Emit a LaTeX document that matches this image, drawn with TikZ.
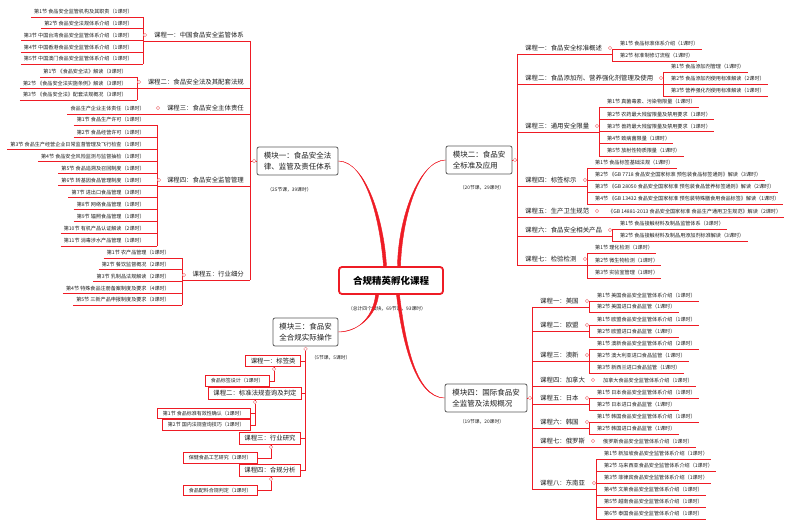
\documentclass[tikz,border=0pt]{standalone}
\usepackage{fontspec}
\setmainfont{Noto Sans CJK SC}
\usetikzlibrary{calc}

\definecolor{brred}{HTML}{EE1C25}
\definecolor{knobred}{HTML}{F08A8E}
\definecolor{inkgray}{HTML}{1E1E1E}
\definecolor{framegray}{HTML}{595959}

\tikzset{
  br/.style={draw=brred, line width=0.8pt},
  branch/.style={fill=brred, draw=brred, line width=0.4pt},
  leaf/.style={font=\fontsize{5.1}{6}\selectfont, text=inkgray, inner xsep=3pt, inner ysep=2.4pt},
  leafl/.style={leaf, anchor=south east},
  leafr/.style={leaf, anchor=south west},
  course/.style={font=\fontsize{6.4}{7.5}\selectfont, text=inkgray, inner xsep=3pt, inner ysep=2.4pt},
  coursel/.style={course, anchor=south east},
  courser/.style={course, anchor=south west},
  knob/.style={circle, draw=knobred, fill=white, line width=0.5pt, inner sep=0pt, minimum size=3.6pt},
  module/.style={draw=framegray, fill=white, rounded corners=2pt, line width=0.8pt, inner sep=0pt, minimum height=28pt, align=left, font=\fontsize{7.5}{10.5}\selectfont, text=inkgray},
  root/.style={draw=brred, fill=white, rounded corners=3pt, line width=1.8pt, minimum width=104pt, minimum height=27pt, font=\fontsize{9.5}{11}\selectfont\bfseries, text=black},
  note/.style={font=\fontsize{4.8}{6}\selectfont, text=inkgray},
  cbox/.style={draw=brred, fill=white, line width=0.9pt, anchor=east, inner xsep=5pt, inner ysep=0pt, minimum height=11.5pt, font=\fontsize{6.4}{7.5}\selectfont, text=inkgray},
  lbox/.style={draw=brred, fill=white, line width=0.7pt, anchor=east, inner xsep=6pt, inner ysep=0pt, minimum height=10.5pt, font=\fontsize{5}{6}\selectfont, text=inkgray},
}

\begin{document}
\begin{tikzpicture}[x=1pt,y=-1pt]
\useasboundingbox (0,0) rectangle (800,526);

% centre
\node[root] (root) at (391,280.5) {合规精英孵化课程};
\node[note] (total) at (387,309) {（总计四个模块，69节课，93课时）};

% modules
\node[module, minimum width=81pt] (m1) at (297.5,161) {模块一：食品安全法\\律、监管及责任体系};
\node[module, minimum width=66pt] (m2) at (479,160) {模块二：食品安\\全标准及应用};
\node[module, minimum width=65pt] (m3) at (305.5,332) {模块三：食品安\\全合规实际操作};
\node[module, minimum width=82pt] (m4) at (486,398) {模块四：国际食品安\\全监管及法规概况};
\node[note] (n1) at (289.5,190) {（25节课，39课时）};
\node[note] (n2) at (482,188) {（20节课，29课时）};
\node[note] (n3) at (331,358) {（5节课，5课时）};
\node[note] (n4) at (482,422) {（19节课，20课时）};

% branches to the centre
\fill[branch] (m1.east) .. controls (366,161) and (380,220) .. ([xshift=-7.5pt]root.north) -- ([xshift=-4.5pt]root.north) .. controls (384,220) and (366,162) .. (m1.east);
\fill[branch] (m2.west) .. controls (418,160) and (402,220) .. ([xshift=9.5pt]root.north) -- ([xshift=6.5pt]root.north) .. controls (398,220) and (418,161) .. (m2.west);
\fill[branch] (m3.east) .. controls (362,332) and (374,312) .. ([xshift=-15.5pt]root.south) -- ([xshift=-12.5pt]root.south) .. controls (377,312) and (362,331) .. (m3.east);
\fill[branch] (m4.west) .. controls (415,398) and (402,340) .. ([xshift=5.5pt]root.south) -- ([xshift=8.5pt]root.south) .. controls (405,340) and (415,397) .. (m4.west);

% module one
\coordinate (sp1) at (250,41);
\node[coursel] (c11) at (247,41) {课程一：中国食品安全监管体系};
\coordinate (b11) at (143,41);
\foreach \lbl [count=\i] in {第1节 食品安全监管机构及其职责（1课时）, 第2节 食品安全法规体系介绍（1课时）, 第3节 中国台湾食品安全监管体系介绍（1课时）, 第4节 中国香港食品安全监管体系介绍（1课时）, 第5节 中国澳门食品安全监管体系介绍（1课时）}{
  \node[leafl] (l11-\i) at (136,{17+11.75*(\i-1)}) {\lbl};
  \draw[br] (l11-\i.south west) -- (l11-\i.south -| b11);
}
\draw[br] (l11-1.south -| b11) -- (l11-5.south -| b11);
\draw[br] (b11) -- (c11.south -| sp1);
\node[knob] (k11) at (145,35) {};

\node[coursel] (c12) at (247,88) {课程二：食品安全法及其配套法规};
\coordinate (b12) at (137,88);
\foreach \lbl [count=\i] in {第1节 《食品安全法》解读（3课时）, 第2节 《食品安全法实施条例》解读（3课时）, 第3节 《食品安全法》配套法规概况（3课时）}{
  \node[leafl] (l12-\i) at (130,{77+11.5*(\i-1)}) {\lbl};
  \draw[br] (l12-\i.south west) -- (l12-\i.south -| b12);
}
\draw[br] (l12-1.south -| b12) -- (l12-3.south -| b12);
\draw[br] (b12) -- (c12.south -| sp1);
\node[knob] (k12) at (139,82) {};

\node[coursel] (c13) at (247,114) {课程三：食品安全主体责任};
\node[leafl] (l13) at (148,114) {食品生产企业主体责任（1课时）};
\draw[br] (l13.south west) -- (c13.south -| sp1);
\node[knob] (k13) at (158,108) {};

\node[coursel] (c14) at (247,186) {课程四：食品安全监管管理};
\coordinate (b14) at (157,186);
\foreach \lbl [count=\i] in {第1节 食品生产许可（1课时）, 第2节 食品经营许可（1课时）, 第3节 食品生产经营企业日常监督管理及飞行检查（1课时）, 第4节 食品安全风险监测与监督抽检（1课时）, 第5节 食品追溯及召回制度（1课时）, 第6节 转基因食品管理制度（1课时）, 第7节 进出口食品管理（3课时）, 第8节 网络食品管理（1课时）, 第9节 辐照食品管理（1课时）, 第10节 有机产品认证解读（2课时）, 第11节 消毒涉水产品管理（1课时）}{
  \node[leafl] (l14-\i) at (148,{125+12.1*(\i-1)}) {\lbl};
  \draw[br] (l14-\i.south west) -- (l14-\i.south -| b14);
}
\draw[br] (l14-1.south -| b14) -- (l14-11.south -| b14);
\draw[br] (b14) -- (c14.south -| sp1);
\node[knob] (k14) at (159,180) {};

\node[coursel] (c15) at (247,280) {课程五：行业细分};
\coordinate (b15) at (182,280);
\foreach \lbl [count=\i] in {第1节 农产品管理（1课时）, 第2节 餐饮监督概况（2课时）, 第3节 乳制品法规解读（2课时）, 第4节 特殊食品注册备案制度及要求（4课时）, 第5节 三新产品申报制度及要求（3课时）}{
  \node[leafl] (l15-\i) at (173,{258+11.75*(\i-1)}) {\lbl};
  \draw[br] (l15-\i.south west) -- (l15-\i.south -| b15);
}
\draw[br] (l15-1.south -| b15) -- (l15-5.south -| b15);
\draw[br] (b15) -- (c15.south -| sp1);
\node[knob] (k15) at (184,275) {};

\draw[br] (c11.south -| sp1) -- (c15.south -| sp1);
\draw[br] (m1.west) -- (m1.west -| sp1);
\node[knob] (k1) at ($(m1.west)+(-2.5,0)$) {};

% module two
\coordinate (sp2) at (517,54);
\node[courser] (c21) at (522,54) {课程一：食品安全标准概述};
\coordinate (b21) at (612,54);
\foreach \lbl [count=\i] in {第1节 食品标准体系介绍（1课时）, 第2节 标准制修订流程（1课时）}{
  \node[leafr] (l21-\i) at (617,{49+12*(\i-1)}) {\lbl};
  \draw[br] (l21-\i.south -| b21) -- (l21-\i.south east);
}
\draw[br] (l21-1.south -| b21) -- (l21-2.south -| b21);
\draw[br] (c21.south -| sp2) -- (b21);
\node[knob] (k21) at (610,48) {};

\node[courser] (c22) at (522,84) {课程二：食品添加剂、营养强化剂管理及使用};
\coordinate (b22) at (663,84);
\foreach \lbl [count=\i] in {第1节 食品添加剂管理（1课时）, 第2节 食品添加剂使用标准解读（2课时）, 第3节 营养强化剂使用标准解读（1课时）}{
  \node[leafr] (l22-\i) at (668,{72+12*(\i-1)}) {\lbl};
  \draw[br] (l22-\i.south -| b22) -- (l22-\i.south east);
}
\draw[br] (l22-1.south -| b22) -- (l22-3.south -| b22);
\draw[br] (c22.south -| sp2) -- (b22);
\node[knob] (k22) at (661,78) {};

\node[courser] (c23) at (522,132) {课程三：通用安全限量};
\coordinate (b23) at (599,132);
\foreach \lbl [count=\i] in {第1节 真菌毒素、污染物限量（1课时）, 第2节 农药最大残留限量及禁用要求（1课时）, 第3节 兽药最大残留限量及禁用要求（1课时）, 第4节 致病菌限量（1课时）, 第5节 放射性物质限量（1课时）}{
  \node[leafr] (l23-\i) at (604,{107+12.25*(\i-1)}) {\lbl};
  \draw[br] (l23-\i.south -| b23) -- (l23-\i.south east);
}
\draw[br] (l23-1.south -| b23) -- (l23-5.south -| b23);
\draw[br] (c23.south -| sp2) -- (b23);
\node[knob] (k23) at (597,126) {};

\node[courser] (c24) at (522,186) {课程四：标签标示};
\coordinate (b24) at (587,186);
\foreach \lbl [count=\i] in {第1节 食品标签基础法规（1课时）, 第2节 《GB 7718 食品安全国家标准 预包装食品标签通则》解读（3课时）, 第3节 《GB 28050 食品安全国家标准 预包装食品营养标签通则》解读（2课时）, 第4节 《GB 13432 食品安全国家标准 预包装特殊膳食用食品标签》解读（1课时）}{
  \node[leafr] (l24-\i) at (592,{168+12*(\i-1)}) {\lbl};
  \draw[br] (l24-\i.south -| b24) -- (l24-\i.south east);
}
\draw[br] (l24-1.south -| b24) -- (l24-4.south -| b24);
\draw[br] (c24.south -| sp2) -- (b24);
\node[knob] (k24) at (585,180) {};

\node[courser] (c25) at (522,217) {课程五：生产卫生规范};
\node[leafr] (l25) at (605,217) {《GB 14881-2013 食品安全国家标准 食品生产通用卫生规范》解读（2课时）};
\draw[br] (c25.south -| sp2) -- (l25.south east);
\node[knob] (k25) at (597,211) {};

\node[courser] (c26) at (522,236) {课程六：食品安全相关产品};
\coordinate (b26) at (612,236);
\foreach \lbl [count=\i] in {第1节 食品接触材料及制品监管体系（3课时）, 第2节 食品接触材料及制品用添加剂标准解读（3课时）}{
  \node[leafr] (l26-\i) at (617,{229+12*(\i-1)}) {\lbl};
  \draw[br] (l26-\i.south -| b26) -- (l26-\i.south east);
}
\draw[br] (l26-1.south -| b26) -- (l26-2.south -| b26);
\draw[br] (c26.south -| sp2) -- (b26);
\node[knob] (k26) at (610,230) {};

\node[courser] (c27) at (522,265) {课程七：检验检测};
\coordinate (b27) at (587,265);
\foreach \lbl [count=\i] in {第1节 理化检测（1课时）, 第2节 微生物检测（1课时）, 第3节 实验室管理（1课时）}{
  \node[leafr] (l27-\i) at (592,{253+12.5*(\i-1)}) {\lbl};
  \draw[br] (l27-\i.south -| b27) -- (l27-\i.south east);
}
\draw[br] (l27-1.south -| b27) -- (l27-3.south -| b27);
\draw[br] (c27.south -| sp2) -- (b27);
\node[knob] (k27) at (585,259) {};

\draw[br] (c21.south -| sp2) -- (c27.south -| sp2);
\draw[br] (m2.east) -- (m2.east -| sp2);
\node[knob] (k2) at ($(m2.east)+(2.5,0)$) {};

% module three
\node[knob] (k3) at ($(m3.south)+(0,2.5)$) {};
\node[cbox] (c31) at (301,361) {课程一：标签类};
\node[cbox] (c32) at (302,393.5) {课程二：标准法规查询及判定};
\node[cbox] (c33) at (301,438.5) {课程三：行业研究};
\node[cbox] (c34) at (301,470.5) {课程四：合规分析};
\draw[br] (k3) -- (k3 |- c34.east);
\foreach \i in {1,...,4}
  \draw[br] (c3\i.east) -- (c3\i.east -| k3);

\node[lbox] (q31) at (270,381) {食品标签设计（1课时）};
\node[lbox] (q32-1) at (251,413.5) {第1节 食品标准有效性确认（1课时）};
\node[lbox] (q32-2) at (251,425) {第2节 国内法规查询技巧（1课时）};
\node[lbox] (q33) at (258,458) {保健食品工艺研究（1课时）};
\node[lbox] (q34) at (258,490.5) {食品配料合规判定（1课时）};
\node[knob] (j31) at (274,369) {};
\node[knob] (j32) at (255,402) {};
\node[knob] (j33) at (271,447) {};
\node[knob] (j34) at (271,479) {};
\draw[br] (c31.south -| j31) -- (j31) |- (q31.east);
\draw[br] (c32.south -| j32) -- (j32) |- (q32-1.east);
\draw[br] (j32) |- (q32-2.east);
\draw[br] (c33.south -| j33) -- (j33) |- (q33.east);
\draw[br] (c34.south -| j34) -- (j34) |- (q34.east);

% module four
\coordinate (sp4) at (532,307);
\node[courser] (c41) at (537,307) {课程一：美国};
\coordinate (b41) at (589,307);
\foreach \lbl [count=\i] in {第1节 美国食品安全监管体系介绍（1课时）, 第2节 美国进口食品监管（1课时）}{
  \node[leafr] (l41-\i) at (594,{301+11*(\i-1)}) {\lbl};
  \draw[br] (l41-\i.south -| b41) -- (l41-\i.south east);
}
\draw[br] (l41-1.south -| b41) -- (l41-2.south -| b41);
\draw[br] (c41.south -| sp4) -- (b41);
\node[knob] (k41) at (587,301) {};

\node[courser] (c42) at (537,331) {课程二：欧盟};
\coordinate (b42) at (589,331);
\foreach \lbl [count=\i] in {第1节 欧盟食品安全监管体系介绍（1课时）, 第2节 欧盟进口食品监管（1课时）}{
  \node[leafr] (l42-\i) at (594,{325+12*(\i-1)}) {\lbl};
  \draw[br] (l42-\i.south -| b42) -- (l42-\i.south east);
}
\draw[br] (l42-1.south -| b42) -- (l42-2.south -| b42);
\draw[br] (c42.south -| sp4) -- (b42);
\node[knob] (k42) at (587,325) {};

\node[courser] (c43) at (537,361) {课程三：澳新};
\coordinate (b43) at (589,361);
\foreach \lbl [count=\i] in {第1节 澳新食品安全监管体系介绍（2课时）, 第2节 澳大利亚进口食品监管（1课时）, 第3节 新西兰进口食品监管（1课时）}{
  \node[leafr] (l43-\i) at (594,{349+12*(\i-1)}) {\lbl};
  \draw[br] (l43-\i.south -| b43) -- (l43-\i.south east);
}
\draw[br] (l43-1.south -| b43) -- (l43-3.south -| b43);
\draw[br] (c43.south -| sp4) -- (b43);
\node[knob] (k43) at (587,355) {};

\node[courser] (c44) at (537,386) {课程四：加拿大};
\node[leafr] (l44) at (600,386) {加拿大食品安全监管体系介绍（1课时）};
\draw[br] (c44.south -| sp4) -- (l44.south east);
\node[knob] (k44) at (593,380) {};

\node[courser] (c45) at (537,404) {课程五：日本};
\coordinate (b45) at (589,404);
\foreach \lbl [count=\i] in {第1节 日本食品安全监管体系介绍（1课时）, 第2节 日本进口食品监管（1课时）}{
  \node[leafr] (l45-\i) at (594,{398+12*(\i-1)}) {\lbl};
  \draw[br] (l45-\i.south -| b45) -- (l45-\i.south east);
}
\draw[br] (l45-1.south -| b45) -- (l45-2.south -| b45);
\draw[br] (c45.south -| sp4) -- (b45);
\node[knob] (k45) at (587,398) {};

\node[courser] (c46) at (537,428) {课程六：韩国};
\coordinate (b46) at (589,428);
\foreach \lbl [count=\i] in {第1节 韩国食品安全监管体系介绍（1课时）, 第2节 韩国进口食品监管（1课时）}{
  \node[leafr] (l46-\i) at (594,{422+12*(\i-1)}) {\lbl};
  \draw[br] (l46-\i.south -| b46) -- (l46-\i.south east);
}
\draw[br] (l46-1.south -| b46) -- (l46-2.south -| b46);
\draw[br] (c46.south -| sp4) -- (b46);
\node[knob] (k46) at (587,422) {};

\node[courser] (c47) at (537,447) {课程七：俄罗斯};
\node[leafr] (l47) at (600,447) {俄罗斯食品安全监管体系介绍（1课时）};
\draw[br] (c47.south -| sp4) -- (l47.south east);
\node[knob] (k47) at (593,441) {};

\node[courser] (c48) at (537,489) {课程八：东南亚};
\coordinate (b48) at (596,489);
\foreach \lbl [count=\i] in {第1节 新加坡食品安全监管体系介绍（1课时）, 第2节 马来西亚食品安全监管体系介绍（1课时）, 第3节 菲律宾食品安全监管体系介绍（1课时）, 第4节 文莱食品安全监管体系介绍（1课时）, 第5节 越南食品安全监管体系介绍（1课时）, 第6节 泰国食品安全监管体系介绍（1课时）}{
  \node[leafr] (l48-\i) at (601,{459+12*(\i-1)}) {\lbl};
  \draw[br] (l48-\i.south -| b48) -- (l48-\i.south east);
}
\draw[br] (l48-1.south -| b48) -- (l48-6.south -| b48);
\draw[br] (c48.south -| sp4) -- (b48);
\node[knob] (k48) at (594,483) {};

\draw[br] (c41.south -| sp4) -- (c48.south -| sp4);
\draw[br] (m4.east) -- (m4.east -| sp4);
\node[knob] (k4) at ($(m4.east)+(2.5,0)$) {};
\end{tikzpicture}
\end{document}
